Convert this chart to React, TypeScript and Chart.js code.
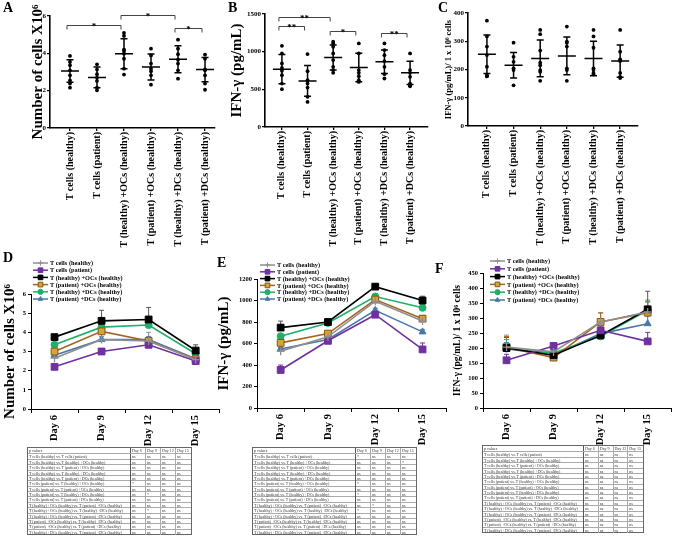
import React, { useEffect, useRef } from "react";
import { Chart, registerables } from "chart.js";
Chart.register(...registerables);

const SERIF = "'Liberation Serif', 'Times New Roman', serif";

// ---------- data ----------
const groupLabels = [
  "T cells (healthy)",
  "T cells (patient)",
  "T (healthy) +OCs (healthy)",
  "T (patient) +OCs (healthy)",
  "T (healthy) +DCs (healthy)",
  "T (patient) +DCs (healthy)",
];

// Panel A: number of cells x10^6
const cellsPoints = [
  [3.86, 3.54, 3.36, 3.09, 2.82, 2.55, 2.38, 2.16],
  [3.41, 3.13, 2.88, 2.7, 2.52, 2.16, 2.02],
  [5.09, 4.93, 4.2, 4.13, 3.98, 3.71, 3.18, 2.86],
  [4.25, 3.89, 3.45, 3.18, 3.04, 2.82, 2.32],
  [4.73, 4.25, 3.95, 3.66, 3.45, 3.09, 2.64],
  [3.93, 3.71, 3.14, 3.09, 2.82, 2.38, 2.05],
];
const cellsMean = [3.05, 2.71, 3.98, 3.27, 3.68, 3.13];
const cellsSD = [0.6, 0.56, 0.8, 0.7, 0.72, 0.65];
const cellsSig = [
  { from: 1, to: 3, y: 5.5, label: "*" },
  { from: 3, to: 5, y: 6.04, label: "*" },
  { from: 5, to: 6, y: 5.38, label: "*" },
];

// Panel B: IFN-gamma (pg/mL)
const ifnPoints = [
  [1078, 976, 843, 786, 746, 688, 577, 502],
  [968, 741, 621, 577, 524, 400, 333],
  [1132, 1110, 1065, 976, 888, 799, 755, 719],
  [1110, 976, 755, 719, 675, 621, 599],
  [1110, 1021, 954, 874, 799, 701, 644],
  [976, 755, 719, 666, 577, 555, 541],
];
const ifnMean = [768, 612, 923, 790, 866, 719];
const ifnSD = [195, 205, 166, 190, 155, 155];
const ifnSig = [
  { from: 1, to: 3, y: 1456, label: "**" },
  { from: 1, to: 2, y: 1340, label: "**" },
  { from: 3, to: 4, y: 1278, label: "*" },
  { from: 5, to: 6, y: 1243, label: "**" },
];

// Panel C: IFN-gamma per 10^6 cells
const normPoints = [
  [373, 317, 281, 251, 210, 180, 176, 176],
  [295, 245, 227, 204, 198, 144],
  [340, 325, 267, 224, 215, 198, 192, 160],
  [352, 299, 295, 281, 204, 198, 160],
  [340, 317, 277, 204, 198, 188, 183],
  [340, 263, 236, 230, 188, 174, 170],
];
const normMean = [254, 215, 239, 248, 239, 230];
const normSD = [68, 45, 65, 67, 61, 57];

// Kinetics (rows follow groupLabels)
const days = ["Day 6", "Day 9", "Day 12", "Day 15"];
const cellsKinetics = [
  [2.65, 3.62, 3.55, 2.58],
  [2.2, 3.0, 3.35, 2.5],
  [3.75, 4.6, 4.67, 3.05],
  [3.0, 4.05, 3.55, 2.6],
  [3.35, 4.27, 4.38, 2.88],
  [2.8, 3.62, 3.62, 2.62],
];
const cellsKineticsErr = [
  [0.1, 0.45, 0.45, 0.2],
  [0.1, 0.1, 0.1, 0.1],
  [0.1, 0.55, 0.63, 0.3],
  [0.1, 0.3, 0.2, 0.1],
  [0.1, 0.2, 0.3, 0.15],
  [0.1, 0.15, 0.15, 0.1],
];
const ifnKinetics = [
  [529, 662, 994, 809],
  [354, 625, 868, 545],
  [748, 800, 1129, 1000],
  [606, 692, 1009, 831],
  [668, 791, 1037, 932],
  [548, 637, 908, 708],
];
const ifnKineticsErr = [
  [25, 30, 40, 40],
  [45, 20, 25, 60],
  [60, 20, 20, 40],
  [20, 20, 30, 30],
  [20, 15, 25, 30],
  [15, 15, 20, 20],
];
const normKinetics = [
  [203, 187, 287, 320],
  [159, 207, 259, 222],
  [200, 176, 242, 329],
  [203, 168, 287, 318],
  [198, 183, 239, 326],
  [198, 176, 248, 281],
];
const normKineticsErr = [
  [40, 15, 30, 40],
  [20, 10, 15, 30],
  [35, 15, 20, 60],
  [35, 10, 30, 35],
  [30, 10, 15, 30],
  [20, 10, 15, 25],
];

// p-value tables
const comparisons = [
  "T cells (healthy) vs. T cells (patient)",
  "T cells (healthy) vs. T (healthy) +OCs (healthy)",
  "T cells (healthy) vs. T (patient) +OCs (healthy)",
  "T cells (healthy) vs. T (healthy) +DCs (healthy)",
  "T cells (healthy) vs. T (patient) +DCs (healthy)",
  "T cells (patient) vs. T (healthy) +OCs (healthy)",
  "T cells (patient) vs. T (patient) +OCs (healthy)",
  "T cells (patient) vs. T (healthy) +DCs (healthy)",
  "T cells (patient) vs. T (patient) +DCs (healthy)",
  "T (healthy) +OCs (healthy) vs. T (patient) +OCs (healthy)",
  "T (healthy) +OCs (healthy) vs. T (healthy) +DCs (healthy)",
  "T (healthy) +OCs (healthy) vs. T (patient) +DCs (healthy)",
  "T (patient) +OCs (healthy) vs. T (healthy) +DCs (healthy)",
  "T (patient) +OCs (healthy) vs. T (patient) +DCs (healthy)",
  "T (healthy) +DCs (healthy) vs. T (patient) +DCs (healthy)",
];
const pCells = [
  ["ns", "ns", "ns", "ns"], ["ns", "ns", "ns", "ns"], ["ns", "ns", "ns", "ns"],
  ["ns", "ns", "ns", "ns"], ["ns", "ns", "ns", "ns"], ["*", "ns", "ns", "ns"],
  ["ns", "ns", "ns", "ns"], ["ns", "*", "ns", "ns"], ["ns", "ns", "ns", "ns"],
  ["ns", "ns", "ns", "ns"], ["ns", "*", "ns", "ns"], ["ns", "ns", "ns", "ns"],
  ["ns", "ns", "ns", "ns"], ["ns", "ns", "ns", "ns"], ["ns", "ns", "ns", "ns"],
];
const pIfn = [
  ["*", "ns", "ns", "ns"], ["ns", "ns", "ns", "*"], ["ns", "ns", "ns", "ns"],
  ["ns", "ns", "ns", "ns"], ["ns", "ns", "ns", "ns"], ["*", "ns", "ns", "ns"],
  ["ns", "ns", "ns", "ns"], ["*", "ns", "ns", "ns"], ["ns", "ns", "ns", "ns"],
  ["ns", "*", "ns", "ns"], ["*", "ns", "ns", "ns"], ["ns", "ns", "ns", "ns"],
  ["ns", "ns", "ns", "ns"], ["ns", "ns", "ns", "ns"], ["ns", "ns", "ns", "ns"],
];
const pNorm = [
  ["ns", "ns", "ns", "ns"], ["ns", "ns", "ns", "ns"], ["ns", "ns", "ns", "ns"],
  ["ns", "ns", "ns", "ns"], ["ns", "ns", "ns", "ns"], ["ns", "ns", "ns", "ns"],
  ["ns", "ns", "ns", "ns"], ["ns", "ns", "ns", "ns"], ["ns", "ns", "ns", "ns"],
  ["ns", "ns", "ns", "ns"], ["ns", "ns", "ns", "ns"], ["ns", "ns", "ns", "ns"],
  ["ns", "ns", "ns", "ns"], ["ns", "ns", "ns", "ns"], ["ns", "ns", "ns", "ns"],
];

// ---------- styles ----------
const seriesStyles = [
  { line: "#8f8f8f", fill: "#8f8f8f", border: "#8f8f8f", point: "cross", r: 4 },
  { line: "#7030a0", fill: "#7030a0", border: "#7030a0", point: "rect", r: 4.8 },
  { line: "#000000", fill: "#000000", border: "#000000", point: "rect", r: 4.8 },
  { line: "#a5651f", fill: "#d4a53a", border: "#8a5414", point: "rect", r: 4.8 },
  { line: "#1faf6b", fill: "#1faf6b", border: "#1faf6b", point: "circle", r: 3.5 },
  { line: "#4a77aa", fill: "#4a77aa", border: "#4a77aa", point: "triangle", r: 4 },
];

// ---------- plugins ----------
function meanSdPlugin(means: number[], sds: number[]) {
  return {
    id: "meanSd",
    afterDatasetsDraw(chart: any) {
      const { ctx } = chart;
      const x = chart.scales.x, y = chart.scales.y;
      ctx.save();
      ctx.strokeStyle = "#000";
      ctx.lineWidth = 1.5;
      means.forEach((m, i) => {
        const cx = x.getPixelForValue(i + 1);
        const ym = y.getPixelForValue(m);
        const yt = y.getPixelForValue(m + sds[i]);
        const yb = y.getPixelForValue(m - sds[i]);
        ctx.beginPath();
        ctx.moveTo(cx - 9, ym); ctx.lineTo(cx + 9, ym);
        ctx.moveTo(cx, yt); ctx.lineTo(cx, yb);
        ctx.moveTo(cx - 3.5, yt); ctx.lineTo(cx + 3.5, yt);
        ctx.moveTo(cx - 3.5, yb); ctx.lineTo(cx + 3.5, yb);
        ctx.stroke();
      });
      ctx.restore();
    },
  };
}

function bracketPlugin(items: { from: number; to: number; y: number; label: string }[]) {
  return {
    id: "brackets",
    afterDraw(chart: any) {
      const { ctx } = chart;
      const x = chart.scales.x, y = chart.scales.y;
      ctx.save();
      ctx.strokeStyle = "#444";
      ctx.lineWidth = 1;
      ctx.fillStyle = "#000";
      ctx.font = `bold 9px ${SERIF}`;
      ctx.textAlign = "center";
      ctx.textBaseline = "alphabetic";
      items.forEach((b) => {
        const x1 = x.getPixelForValue(b.from) - 3;
        const x2 = x.getPixelForValue(b.to) - 3;
        const py = Math.round(y.getPixelForValue(b.y)) + 0.5;
        ctx.beginPath();
        ctx.moveTo(x1, py + 4); ctx.lineTo(x1, py); ctx.lineTo(x2, py); ctx.lineTo(x2, py + 4);
        ctx.stroke();
        ctx.fillText(b.label, (x1 + x2) / 2, py + 3);
      });
      ctx.restore();
    },
  };
}

function drawMarker(ctx: any, style: string, x: number, y: number, r: number) {
  ctx.beginPath();
  if (style === "rect") {
    const s = r / Math.SQRT2;
    ctx.rect(x - s, y - s, 2 * s, 2 * s);
    ctx.fill(); ctx.stroke();
  } else if (style === "circle") {
    ctx.arc(x, y, r, 0, Math.PI * 2);
    ctx.fill(); ctx.stroke();
  } else if (style === "triangle") {
    ctx.moveTo(x, y - r);
    ctx.lineTo(x + r * 0.87, y + r * 0.5);
    ctx.lineTo(x - r * 0.87, y + r * 0.5);
    ctx.closePath();
    ctx.fill(); ctx.stroke();
  } else {
    ctx.moveTo(x - r, y); ctx.lineTo(x + r, y);
    ctx.moveTo(x, y - r); ctx.lineTo(x, y + r);
    ctx.stroke();
  }
}

function legendPlugin(dx: number, dy: number, gap: number) {
  return {
    id: "lineLegend",
    afterDraw(chart: any) {
      const { ctx, chartArea } = chart;
      ctx.save();
      ctx.font = `bold 6.3px ${SERIF}`;
      ctx.textBaseline = "middle";
      ctx.textAlign = "left";
      groupLabels.forEach((name, i) => {
        const st = seriesStyles[i];
        const x0 = chartArea.left + dx;
        const y0 = chartArea.top + dy + i * gap;
        ctx.strokeStyle = st.line;
        ctx.lineWidth = 1.5;
        ctx.beginPath(); ctx.moveTo(x0, y0); ctx.lineTo(x0 + 15, y0); ctx.stroke();
        ctx.fillStyle = st.fill;
        ctx.strokeStyle = st.border;
        ctx.lineWidth = 1;
        drawMarker(ctx, st.point, x0 + 7.5, y0, st.point === "rect" ? 3.3 : 2.6);
        ctx.fillStyle = "#000";
        ctx.fillText(name, x0 + 17, y0 + 0.5);
      });
      ctx.restore();
    },
  };
}

function errorBarPlugin(values: number[][], errs: number[][]) {
  return {
    id: "errBars",
    beforeDatasetsDraw(chart: any) {
      const { ctx } = chart;
      const y = chart.scales.y;
      ctx.save();
      ctx.lineWidth = 1;
      values.forEach((row, i) => {
        const meta = chart.getDatasetMeta(i);
        ctx.strokeStyle = seriesStyles[i].line === "#000000" ? "#555" : seriesStyles[i].line;
        row.forEach((v, j) => {
          const px = meta.data[j].x;
          const y0 = y.getPixelForValue(v);
          const y1 = y.getPixelForValue(v + errs[i][j]);
          ctx.beginPath();
          ctx.moveTo(px, y0); ctx.lineTo(px, y1);
          ctx.moveTo(px - 2.5, y1); ctx.lineTo(px + 2.5, y1);
          ctx.stroke();
        });
      });
      ctx.restore();
    },
  };
}

const plainTick = (v: any) => String(v);

// ---------- components ----------
type Box = { left: number; top: number; width: number; height: number };
type Area = { l: number; t: number; r: number; b: number; titleX: number };

function DotPanel(props: {
  box: Box; area: Area; points: number[][]; means: number[]; sds: number[];
  sig: { from: number; to: number; y: number; label: string }[];
  yMax: number; yStep: number; xMin: number; xMax: number;
  title: string; titleSize: number;
}) {
  const ref = useRef<HTMLCanvasElement>(null);
  useEffect(() => {
    const { box, area } = props;
    const lh = props.titleSize * 1.2;
    const scaleLeft = area.titleX - lh / 2;
    const tickGrid = {
      display: true, drawOnChartArea: false, drawTicks: true, tickLength: 3,
      color: "#000", lineWidth: 1.3,
    };
    const chart = new Chart(ref.current!, {
      type: "scatter",
      data: {
        datasets: [{
          data: props.points.flatMap((arr, i) => arr.map((v) => ({ x: i + 1, y: v }))),
          pointRadius: 1.9, pointBackgroundColor: "#000", pointBorderWidth: 0,
          borderColor: "#000", showLine: false,
        }],
      },
      options: {
        animation: false, responsive: false, devicePixelRatio: 1,
        layout: { padding: { left: scaleLeft, top: area.t, right: box.width - area.r, bottom: 0 } },
        plugins: { legend: { display: false }, tooltip: { enabled: false } },
        scales: {
          x: {
            type: "linear", min: props.xMin, max: props.xMax,
            afterBuildTicks: (s: any) => { s.ticks = groupLabels.map((_, i) => ({ value: i + 1 })); },
            afterFit: (s: any) => { s.height = box.height - area.b; },
            ticks: {
              autoSkip: false, minRotation: 90, maxRotation: 90, padding: 1, color: "#000",
              font: { family: SERIF, size: 10, weight: "bold" },
              callback: (v: any) => groupLabels[Math.round(v) - 1] ?? "",
            },
            grid: tickGrid, border: { display: true, color: "#000", width: 1.6 },
          },
          y: {
            min: 0, max: props.yMax,
            afterFit: (s: any) => { s.width = area.l - scaleLeft; },
            ticks: { stepSize: props.yStep, padding: 1, color: "#000", callback: plainTick, font: { family: SERIF, size: 7, weight: "bold" } },
            grid: tickGrid, border: { display: true, color: "#000", width: 1.6 },
            title: {
              display: true, text: props.title, color: "#000", padding: 0,
              font: { family: SERIF, size: props.titleSize, weight: "bold" },
            },
          },
        },
      } as any,
      plugins: [meanSdPlugin(props.means, props.sds), bracketPlugin(props.sig)],
    });
    return () => chart.destroy();
  }, []);
  const { box } = props;
  return (
    <canvas ref={ref} width={box.width} height={box.height}
      style={{ position: "absolute", left: box.left, top: box.top, width: box.width, height: box.height }} />
  );
}

function LinePanel(props: {
  box: Box; area: Area; values: number[][]; errs: number[][];
  yMax: number; yStep: number; title: string; titleSize: number;
  legend: { dx: number; dy: number; gap: number };
}) {
  const ref = useRef<HTMLCanvasElement>(null);
  useEffect(() => {
    const { box, area } = props;
    const lh = props.titleSize * 1.2;
    const scaleLeft = area.titleX - lh / 2;
    const tickGrid = {
      display: true, drawOnChartArea: false, drawTicks: true, tickLength: 3,
      color: "#000", lineWidth: 1,
    };
    const chart = new Chart(ref.current!, {
      type: "line",
      data: {
        labels: days,
        datasets: props.values.map((row, i) => ({
          label: groupLabels[i],
          data: row,
          borderColor: seriesStyles[i].line,
          borderWidth: 1.6,
          pointStyle: seriesStyles[i].point,
          pointRadius: seriesStyles[i].r,
          pointBackgroundColor: seriesStyles[i].fill,
          pointBorderColor: seriesStyles[i].border,
          pointBorderWidth: seriesStyles[i].point === "cross" ? 1.3 : 1,
          tension: 0,
        })),
      },
      options: {
        animation: false, responsive: false, devicePixelRatio: 1,
        layout: { padding: { left: scaleLeft, top: area.t, right: box.width - area.r, bottom: 0 } },
        plugins: { legend: { display: false }, tooltip: { enabled: false } },
        scales: {
          x: {
            type: "category", offset: true,
            afterFit: (s: any) => { s.height = box.height - area.b; },
            ticks: {
              autoSkip: false, minRotation: 90, maxRotation: 90, padding: 2, color: "#000",
              font: { family: SERIF, size: 10.5, weight: "bold" },
            },
            grid: { ...tickGrid, offset: true, tickLength: 4 },
            border: { display: true, color: "#000", width: 1 },
          },
          y: {
            min: 0, max: props.yMax,
            afterFit: (s: any) => { s.width = area.l - scaleLeft; },
            ticks: { stepSize: props.yStep, padding: 2, color: "#000", callback: plainTick, font: { family: SERIF, size: 6.5, weight: "bold" } },
            grid: tickGrid, border: { display: true, color: "#000", width: 1 },
            title: {
              display: true, text: props.title, color: "#000", padding: 0,
              font: { family: SERIF, size: props.titleSize, weight: "bold" },
            },
          },
        },
      } as any,
      plugins: [errorBarPlugin(props.values, props.errs), legendPlugin(props.legend.dx, props.legend.dy, props.legend.gap)],
    });
    return () => chart.destroy();
  }, []);
  const { box } = props;
  return (
    <canvas ref={ref} width={box.width} height={box.height}
      style={{ position: "absolute", left: box.left, top: box.top, width: box.width, height: box.height }} />
  );
}

function PTable(props: { left: number; top: number; width: number; rows: string[][] }) {
  const rowH = 5.375;
  const firstW = Math.round(props.width * 0.63);
  const dayW = (props.width - firstW) / 4;
  const cellBase: React.CSSProperties = {
    height: rowH, lineHeight: `${rowH}px`, whiteSpace: "nowrap", overflow: "hidden",
    paddingLeft: 1, boxSizing: "border-box", flex: "0 0 auto",
  };
  const allRows = [["p values", ...days], ...comparisons.map((c, i) => [c, ...props.rows[i]])];
  return (
    <div style={{
      position: "absolute", left: props.left, top: props.top, width: props.width,
      fontFamily: SERIF, fontSize: 4, color: "#333", border: "1px solid #666",
      boxSizing: "content-box",
    }}>
      {allRows.map((r, i) => (
        <div key={i} style={{ display: "flex", height: rowH, borderTop: i === 0 ? "none" : "0.5px solid #aaa", boxSizing: "border-box" }}>
          {r.map((v, j) => (
            <div key={j} style={{
              ...cellBase, width: j === 0 ? firstW : dayW,
              borderRight: j === 0 ? "1px solid #555" : j < 4 ? "0.5px solid #aaa" : "none",
            }}>{v}</div>
          ))}
        </div>
      ))}
    </div>
  );
}

const letter = (t: string, left: number, top: number) => (
  <div style={{ position: "absolute", left, top, fontFamily: SERIF, fontWeight: "bold", fontSize: 14, lineHeight: "14px", color: "#000" }}>{t}</div>
);

export default function App() {
  return (
    <div style={{ position: "absolute", left: 0, top: 0, width: 677, height: 536, background: "#fff", overflow: "hidden" }}>
      <DotPanel box={{ left: 0, top: 0, width: 225, height: 258 }}
        area={{ l: 50, t: 16, r: 215, b: 128, titleX: 38 }}
        points={cellsPoints} means={cellsMean} sds={cellsSD} sig={cellsSig}
        yMax={6} yStep={2} xMin={0.26} xMax={6.37}
        title="Number of cells X10⁶" titleSize={15} />
      <DotPanel box={{ left: 225, top: 0, width: 225, height: 258 }}
        area={{ l: 40, t: 14, r: 203, b: 127, titleX: 12 }}
        points={ifnPoints} means={ifnMean} sds={ifnSD} sig={ifnSig}
        yMax={1500} yStep={500} xMin={0.34} xMax={6.7}
        title="IFN-γ (pg/mL)" titleSize={15} />
      <DotPanel box={{ left: 440, top: 0, width: 237, height: 258 }}
        area={{ l: 28, t: 13, r: 198, b: 126, titleX: 9 }}
        points={normPoints} means={normMean} sds={normSD} sig={[]}
        yMax={400} yStep={100} xMin={0.29} xMax={6.67}
        title="IFN-γ (pg/mL)/ 1 x 10⁶ cells" titleSize={8.5} />

      <LinePanel box={{ left: 0, top: 255, width: 225, height: 195 }}
        area={{ l: 31, t: 39, r: 222, b: 154, titleX: 10 }}
        values={cellsKinetics} errs={cellsKineticsErr} yMax={6} yStep={1}
        title="Number of cells X10⁶" titleSize={15}
        legend={{ dx: 2, dy: -31, gap: 7.2 }} />
      <LinePanel box={{ left: 212, top: 255, width: 240, height: 195 }}
        area={{ l: 45, t: 24, r: 238, b: 153, titleX: 12 }}
        values={ifnKinetics} errs={ifnKineticsErr} yMax={1200} yStep={200}
        title="IFN-γ (pg/mL)" titleSize={15}
        legend={{ dx: 3, dy: -14, gap: 6.8 }} />
      <LinePanel box={{ left: 445, top: 255, width: 232, height: 195 }}
        area={{ l: 38, t: 18, r: 230, b: 153, titleX: 13 }}
        values={normKinetics} errs={normKineticsErr} yMax={450} yStep={50}
        title="IFN-γ (pg/mL)/ 1 x 10⁶ cells" titleSize={9.5}
        legend={{ dx: 7, dy: -12, gap: 7.8 }} />

      <PTable left={27} top={447} width={163} rows={pCells} />
      <PTable left={252} top={447} width={163} rows={pIfn} />
      <PTable left={482} top={445} width={160} rows={pNorm} />

      {letter("A", 3, 1)}
      {letter("B", 228, 1)}
      {letter("C", 438, 1)}
      {letter("D", 3, 251)}
      {letter("E", 217, 256)}
      {letter("F", 435, 262)}
    </div>
  );
}
